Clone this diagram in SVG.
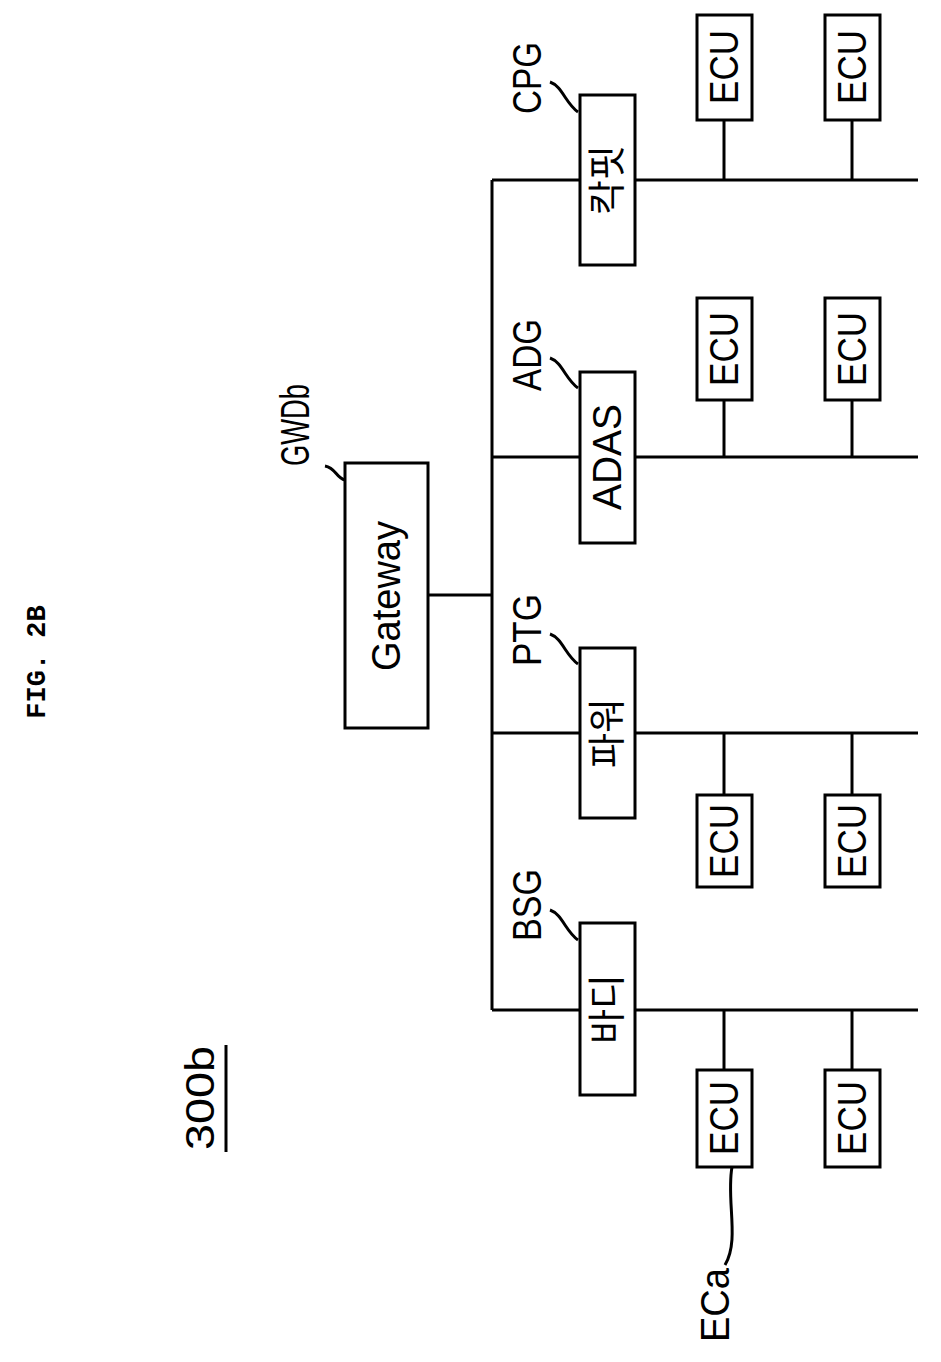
<svg xmlns="http://www.w3.org/2000/svg" width="941" height="1362" viewBox="0 0 941 1362">
<style>
rect{fill:#fff;stroke:#000;stroke-width:3}
line,path{stroke:#000;stroke-width:3;fill:none}
text{font-family:"Liberation Sans","Noto Sans CJK KR",sans-serif;font-size:40px;text-anchor:middle;dominant-baseline:central}
.k{font-size:38px}
</style>
<rect width="941" height="1362" style="stroke:none"/>
<text transform="translate(38,662) rotate(-90)" style="font-family:'Liberation Mono',monospace;font-weight:bold;font-size:27px">FIG. 2B</text>
<g id="label300b"><text transform="translate(200,1098) rotate(-90)" textLength="104" lengthAdjust="spacingAndGlyphs">300b</text><line x1="226" y1="1045" x2="226" y2="1152"/></g>
<g id="connectors">
<line x1="428" y1="595" x2="492" y2="595"/>
<line x1="492" y1="180" x2="492" y2="1010"/>
<line x1="492" y1="180" x2="918" y2="180"/>
<line x1="492" y1="457" x2="918" y2="457"/>
<line x1="492" y1="733" x2="918" y2="733"/>
<line x1="492" y1="1010" x2="918" y2="1010"/>
<line x1="724" y1="120" x2="724" y2="180"/><line x1="852" y1="120" x2="852" y2="180"/>
<line x1="724" y1="400" x2="724" y2="457"/><line x1="852" y1="400" x2="852" y2="457"/>
<line x1="724" y1="733" x2="724" y2="795"/><line x1="852" y1="733" x2="852" y2="795"/>
<line x1="724" y1="1010" x2="724" y2="1070"/><line x1="852" y1="1010" x2="852" y2="1070"/>
<path d="M325,466 C336,468 336,478 345,480"/>
<path d="M550,82 C562,86 566,104 578,112"/>
<path d="M550,358 C562,362 566,380 578,388"/>
<path d="M550,634 C562,638 566,656 578,664"/>
<path d="M550,910 C562,914 566,932 578,940"/>
<path d="M732,1167 C726,1200 740,1240 725,1265"/>
</g>
<g id="gateway"><rect x="345" y="463" width="83" height="265"/><text transform="translate(386,596) rotate(-90)" textLength="150" lengthAdjust="spacingAndGlyphs">Gateway</text><text transform="translate(295,425) rotate(-90)" textLength="82" lengthAdjust="spacingAndGlyphs">GWDb</text></g>
<g id="cpg"><rect x="580" y="95" width="55" height="170"/><text class="k" transform="translate(607,180) rotate(-90)">칵핏</text><text transform="translate(527,78) rotate(-90)" textLength="72" lengthAdjust="spacingAndGlyphs">CPG</text></g>
<g id="adg"><rect x="580" y="372" width="55" height="171"/><text transform="translate(607,457) rotate(-90)" textLength="106" lengthAdjust="spacingAndGlyphs">ADAS</text><text transform="translate(527,355) rotate(-90)" textLength="72" lengthAdjust="spacingAndGlyphs">ADG</text></g>
<g id="ptg"><rect x="580" y="648" width="55" height="170"/><text class="k" transform="translate(607,733) rotate(-90)">파워</text><text transform="translate(527,630) rotate(-90)" textLength="72" lengthAdjust="spacingAndGlyphs">PTG</text></g>
<g id="bsg"><rect x="580" y="923" width="55" height="172"/><text class="k" transform="translate(607,1009) rotate(-90)">바디</text><text transform="translate(527,905) rotate(-90)" textLength="72" lengthAdjust="spacingAndGlyphs">BSG</text></g>
<g id="ecu1"><rect x="697" y="15" width="55" height="105"/><text transform="translate(724,67) rotate(-90)" textLength="74" lengthAdjust="spacingAndGlyphs">ECU</text></g>
<g id="ecu2"><rect x="825" y="15" width="55" height="105"/><text transform="translate(852,67) rotate(-90)" textLength="74" lengthAdjust="spacingAndGlyphs">ECU</text></g>
<g id="ecu3"><rect x="697" y="298" width="55" height="102"/><text transform="translate(724,349) rotate(-90)" textLength="74" lengthAdjust="spacingAndGlyphs">ECU</text></g>
<g id="ecu4"><rect x="825" y="298" width="55" height="102"/><text transform="translate(852,349) rotate(-90)" textLength="74" lengthAdjust="spacingAndGlyphs">ECU</text></g>
<g id="ecu5"><rect x="697" y="795" width="55" height="92"/><text transform="translate(724,841) rotate(-90)" textLength="74" lengthAdjust="spacingAndGlyphs">ECU</text></g>
<g id="ecu6"><rect x="825" y="795" width="55" height="92"/><text transform="translate(852,841) rotate(-90)" textLength="74" lengthAdjust="spacingAndGlyphs">ECU</text></g>
<g id="ecu7"><rect x="697" y="1070" width="55" height="97"/><text transform="translate(724,1118) rotate(-90)" textLength="74" lengthAdjust="spacingAndGlyphs">ECU</text></g>
<g id="ecu8"><rect x="825" y="1070" width="55" height="97"/><text transform="translate(852,1118) rotate(-90)" textLength="74" lengthAdjust="spacingAndGlyphs">ECU</text></g>
<text transform="translate(715,1305) rotate(-90)" textLength="74" lengthAdjust="spacingAndGlyphs">ECa</text>
</svg>
